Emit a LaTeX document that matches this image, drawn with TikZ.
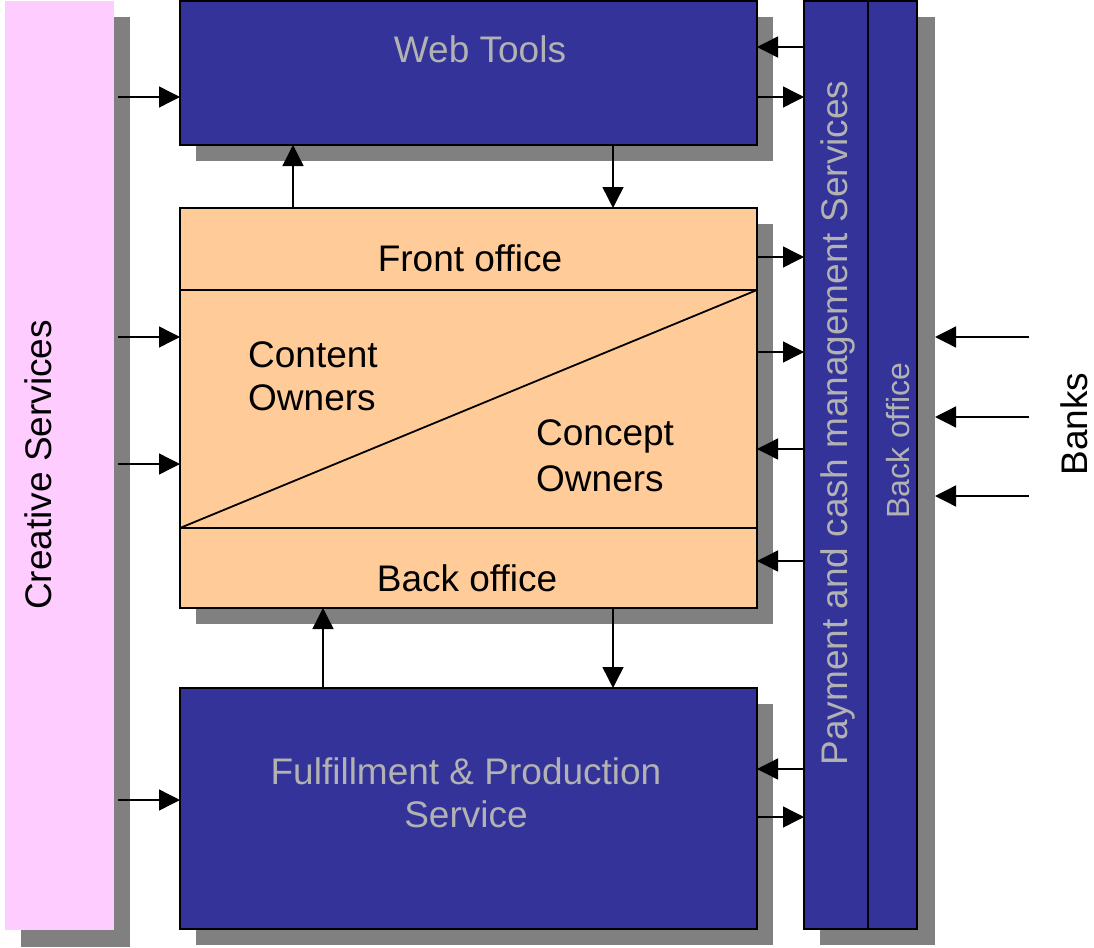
\documentclass[tikz,border=0pt]{standalone}
\usepackage{fontspec}
\setmainfont{Liberation Sans}
\usetikzlibrary{arrows.meta}
\definecolor{boxblue}{HTML}{333399}
\definecolor{peach}{HTML}{FFCC99}
\definecolor{pinkbar}{HTML}{FFCCFF}
\definecolor{shadowgray}{HTML}{808080}
\definecolor{lighttext}{HTML}{B2B2B2}
\tikzset{
  bluebox/.style={draw=black, line width=1.8pt, fill=boxblue, inner sep=0pt, outer sep=0pt},
  peachbox/.style={draw=black, line width=1.8pt, fill=peach, inner sep=0pt, outer sep=0pt},
  pinkbox/.style={fill=pinkbar, inner sep=0pt, outer sep=0pt},
  shadowbox/.style={fill=shadowgray, draw=none},
  bigtext/.style={font=\fontsize{37}{43}\selectfont, inner sep=0pt},
  smalltext/.style={font=\fontsize{32}{37}\selectfont, inner sep=0pt},
  arr/.style={line width=1.4pt, draw=black, -{Triangle[length=21pt,width=21pt]}},
  divline/.style={line width=1.8pt, draw=black}
}
\begin{document}
\begin{tikzpicture}[x=1pt,y=-1pt]
\useasboundingbox (0,0) rectangle (1094,947);
% shadows
\fill[shadowbox] (21,17) rectangle (130,947);
\fill[shadowbox] (196,17) rectangle (773,161);
\fill[shadowbox] (196,224) rectangle (773,624);
\fill[shadowbox] (196,704) rectangle (773,945);
\fill[shadowbox] (820,17) rectangle (935,945);
% boxes
\node[pinkbox, minimum width=109pt, minimum height=929pt] (cs) at (59.5,465.5) {};
\node[bluebox, minimum width=577pt, minimum height=144pt] (web) at (468.5,73) {};
\node[peachbox, minimum width=577pt, minimum height=400pt] (mid) at (468.5,408) {};
\node[bluebox, minimum width=577pt, minimum height=241pt] (ful) at (468.5,808.5) {};
\node[bluebox, minimum width=64pt, minimum height=928pt] (pay) at (836,465) {};
\node[bluebox, minimum width=49pt, minimum height=928pt] (bo) at (892.5,465) {};
% dividers in middle box
\coordinate (fl) at (180,290);
\coordinate (fr) at (757,290);
\coordinate (bl) at (180,528);
\coordinate (br) at (757,528);
\draw[divline] (fl) -- (fr);
\draw[divline] (bl) -- (br);
\draw[divline] (bl) -- (fr);
% texts
\node[bigtext, text=lighttext] (webt) at (480,49) {Web Tools};
\node[bigtext] (front) at (470,258) {Front office};
\node[bigtext] (back) at (467,578) {Back office};
\node[bigtext, anchor=west] (cont1) at (248,355) {Content};
\node[bigtext, anchor=west] (cont2) at (248,398) {Owners};
\node[bigtext, anchor=west] (conc1) at (536,436) {Concept};
\node[bigtext, anchor=west] (conc2) at (536,479) {Owners};
\node[bigtext, text=lighttext] (ful1) at (466,771) {Fulfillment \& Production};
\node[bigtext, text=lighttext] (ful2) at (466,814) {Service};
\node[bigtext, rotate=90] (cst) at (38,465) {Creative Services};
\node[bigtext, rotate=90, text=lighttext] (payt) at (838,423) {Payment and cash management Services};
\node[smalltext, rotate=90, text=lighttext] (bot) at (898,441) {Back office};
\node[bigtext, rotate=90] (banks) at (1074,424) {Banks};
% left arrows
\coordinate (l1) at (118,97);
\coordinate (l2) at (118,337);
\coordinate (l3) at (118,464);
\coordinate (l4) at (118,800);
\draw[arr] (l1) -- (web.west |- l1);
\draw[arr] (l2) -- (mid.west |- l2);
\draw[arr] (l3) -- (mid.west |- l3);
\draw[arr] (l4) -- (ful.west |- l4);
% right arrows
\draw[arr] (pay.west |- 0,47) -- (web.east |- 0,47);
\draw[arr] (web.east |- 0,97) -- (pay.west |- 0,97);
\draw[arr] (mid.east |- 0,257) -- (pay.west |- 0,257);
\draw[arr] (mid.east |- 0,352) -- (pay.west |- 0,352);
\draw[arr] (pay.west |- 0,449) -- (mid.east |- 0,449);
\draw[arr] (pay.west |- 0,561) -- (mid.east |- 0,561);
\draw[arr] (pay.west |- 0,769) -- (ful.east |- 0,769);
\draw[arr] (ful.east |- 0,817) -- (pay.west |- 0,817);
% vertical arrows
\draw[arr] (mid.north -| 293,0) -- (web.south -| 293,0);
\draw[arr] (web.south -| 613,0) -- (mid.north -| 613,0);
\draw[arr] (ful.north -| 323,0) -- (mid.south -| 323,0);
\draw[arr] (mid.south -| 613,0) -- (ful.north -| 613,0);
% bank arrows
\coordinate (b1) at (1029,337);
\coordinate (b2) at (1029,417);
\coordinate (b3) at (1029,496);
\draw[arr] (b1) -- (935,337);
\draw[arr] (b2) -- (935,417);
\draw[arr] (b3) -- (935,496);
\end{tikzpicture}
\end{document}
